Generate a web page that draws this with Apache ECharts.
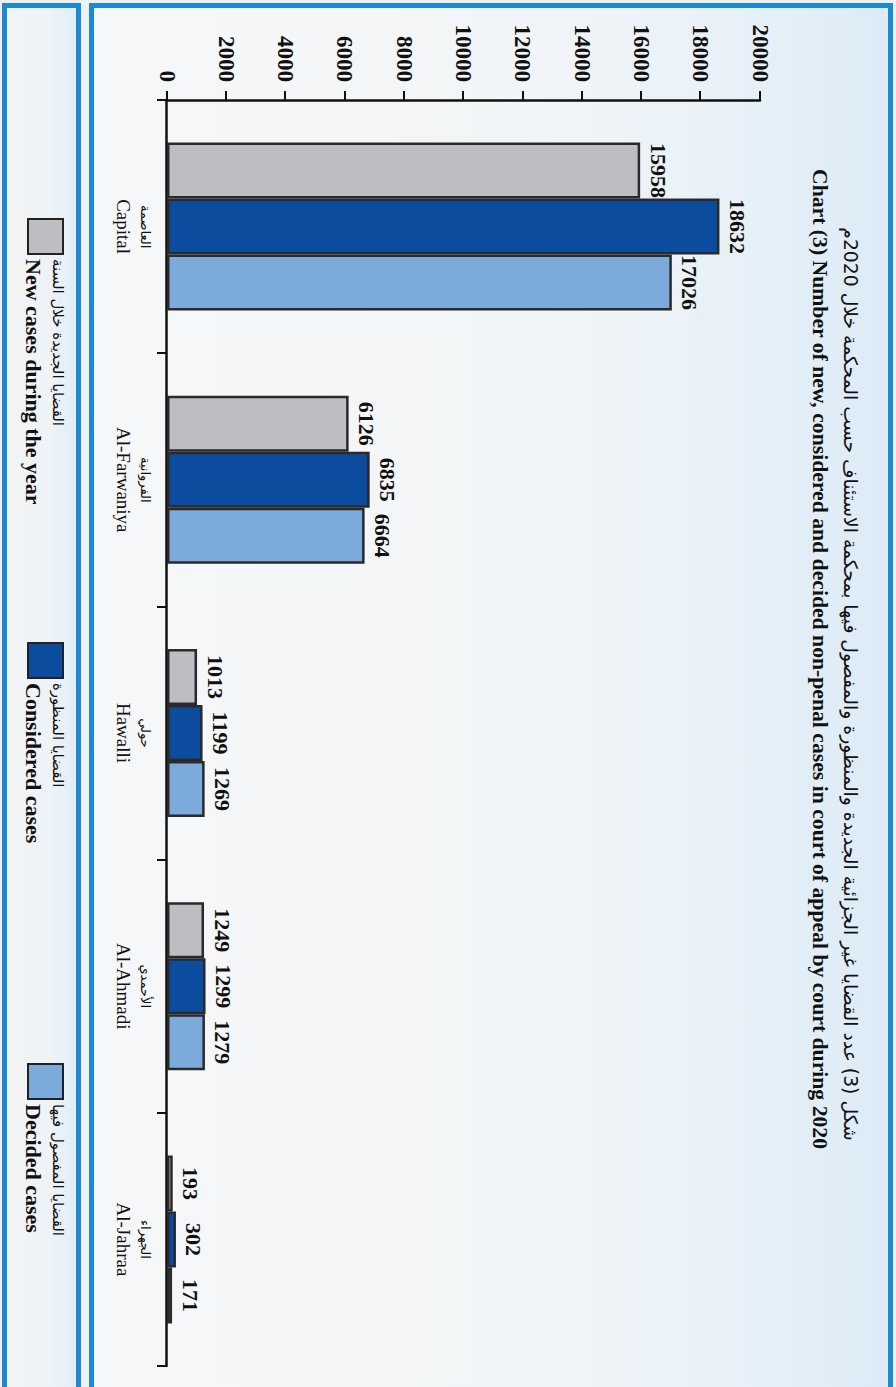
<!DOCTYPE html>
<html><head><meta charset="utf-8">
<script src="https://cdn.jsdelivr.net/npm/echarts@6/dist/echarts.min.js"></script>
<style>
html,body{margin:0;padding:0;width:896px;height:1387px;overflow:hidden;background:#eef0f2;}
#legendPanel{position:absolute;left:2px;top:3px;width:79px;height:1420px;box-sizing:border-box;border:5px solid #1b8ad3;background:linear-gradient(to right,#f3f4f5 0%,#eef3f7 60%,#e1eef8 100%);}
#mainPanel{position:absolute;left:89px;top:3px;width:804px;height:1420px;box-sizing:border-box;border:5px solid #1b8ad3;background:linear-gradient(to right,#f6f7f8 0%,#f2f5f7 55%,#e8f1f8 80%,#dcebf6 100%);}
#chart{position:absolute;left:0;top:0;width:1387px;height:896px;transform-origin:0 0;transform:translateX(896px) rotate(90deg);}
</style>
</head><body>
<div id="legendPanel"></div>
<div id="mainPanel"></div>
<div id="chart"></div>
<script>
const categoriesEn = ['Capital', 'Al-Farwaniya', 'Hawalli', 'Al-Ahmadi', 'Al-Jahraa'];
const categoriesAr = ['العاصمة', 'الفروانية', 'حولي', 'الأحمدي', 'الجهراء'];
const newCases = [15958, 6126, 1013, 1249, 193];
const consideredCases = [18632, 6835, 1199, 1299, 302];
const decidedCases = [17026, 6664, 1269, 1279, 171];
const valueMin = 0, valueMax = 20000, valueInterval = 2000;
const seriesNamesEn = ['New cases during the year', 'Considered cases', 'Decided cases'];
const seriesNamesAr = ['القضايا الجديدة خلال السنة', 'القضايا المنظورة', 'القضايا المفصول فيها'];
const titleEn = 'Chart (3) Number of new, considered and decided non-penal cases in court of appeal by court during 2020';
const titleAr = 'شكل (3) عدد القضايا غير الجزائية الجديدة والمنظورة والمفصول فيها بمحكمة الاستئناف حسب المحكمة خلال 2020م';

const colors = ['#bdbec1', '#0b4c9f', '#7caadb'];
const serif = '"Liberation Serif", "Times New Roman", serif';
const arFont = '"DejaVu Sans", sans-serif';

const chart = echarts.init(document.getElementById('chart'), null, {renderer: 'svg', width: 1387, height: 896});

const seriesData = [newCases, consideredCases, decidedCases];
const legendLefts = [218, 642, 1063];

const option = {
  animation: false,
  backgroundColor: 'transparent',
  grid: {left: 100, right: 21, top: 136, bottom: 167, containLabel: false},
  graphic: [
    {type: 'text', x: 684, y: 46, style: {text: titleAr, font: '18.8px ' + arFont, fill: '#111', textAlign: 'center', textVerticalAlign: 'middle'}},
    {type: 'text', x: 659, y: 76, style: {text: titleEn, font: 'bold 21.7px ' + serif, fill: '#111', textAlign: 'center', textVerticalAlign: 'middle'}}
  ],
  legend: seriesNamesEn.map((n, i) => ({
    data: [n],
    left: legendLefts[i],
    top: 831,
    padding: 0,
    selectedMode: false,
    icon: 'rect',
    itemWidth: 35,
    itemHeight: 35,
    itemStyle: {borderColor: '#222', borderWidth: 2},
    formatter: function (name) {
      const k = seriesNamesEn.indexOf(name);
      return '{ar|' + seriesNamesAr[k] + '}\n{en|' + name + '}';
    },
    textStyle: {
      color: '#111',
      rich: {
        ar: {fontFamily: arFont, fontSize: 15, lineHeight: 24, color: '#111'},
        en: {fontFamily: serif, fontWeight: 'bold', fontSize: 22, lineHeight: 24, color: '#111'}
      }
    }
  })),
  xAxis: {
    type: 'category',
    data: categoriesEn,
    axisLine: {lineStyle: {color: '#111', width: 2.5}},
    axisTick: {show: true, length: 10, lineStyle: {color: '#111', width: 2}},
    axisLabel: {
      interval: 0,
      margin: 12,
      formatter: function (v, idx) {
        return '{ar|' + categoriesAr[idx] + '}\n{en|' + v + '}';
      },
      rich: {
        ar: {fontFamily: arFont, fontSize: 13, lineHeight: 20, color: '#111'},
        en: {fontFamily: serif, fontSize: 19, lineHeight: 24, color: '#111'}
      }
    }
  },
  yAxis: {
    type: 'value',
    min: valueMin,
    max: valueMax,
    interval: valueInterval,
    axisLine: {show: true, lineStyle: {color: '#111', width: 2.5}},
    axisTick: {show: true, length: 9, lineStyle: {color: '#111', width: 2}},
    splitLine: {show: false},
    axisLabel: {fontFamily: serif, fontWeight: 'bold', fontSize: 23, color: '#111', margin: 18, formatter: function (v) { return String(v); }}
  },
  series: seriesNamesEn.map((n, i) => ({
    name: n,
    type: 'bar',
    data: seriesData[i],
    barWidth: 56,
    barGap: '0%',
    itemStyle: {color: colors[i], borderColor: '#2a2a2a', borderWidth: 2.5},
    label: {show: true, position: 'top', distance: 7, fontFamily: serif, fontWeight: 'bold', fontSize: 22, color: '#111'}
  }))
};
chart.setOption(option);
</script>
</body></html>
